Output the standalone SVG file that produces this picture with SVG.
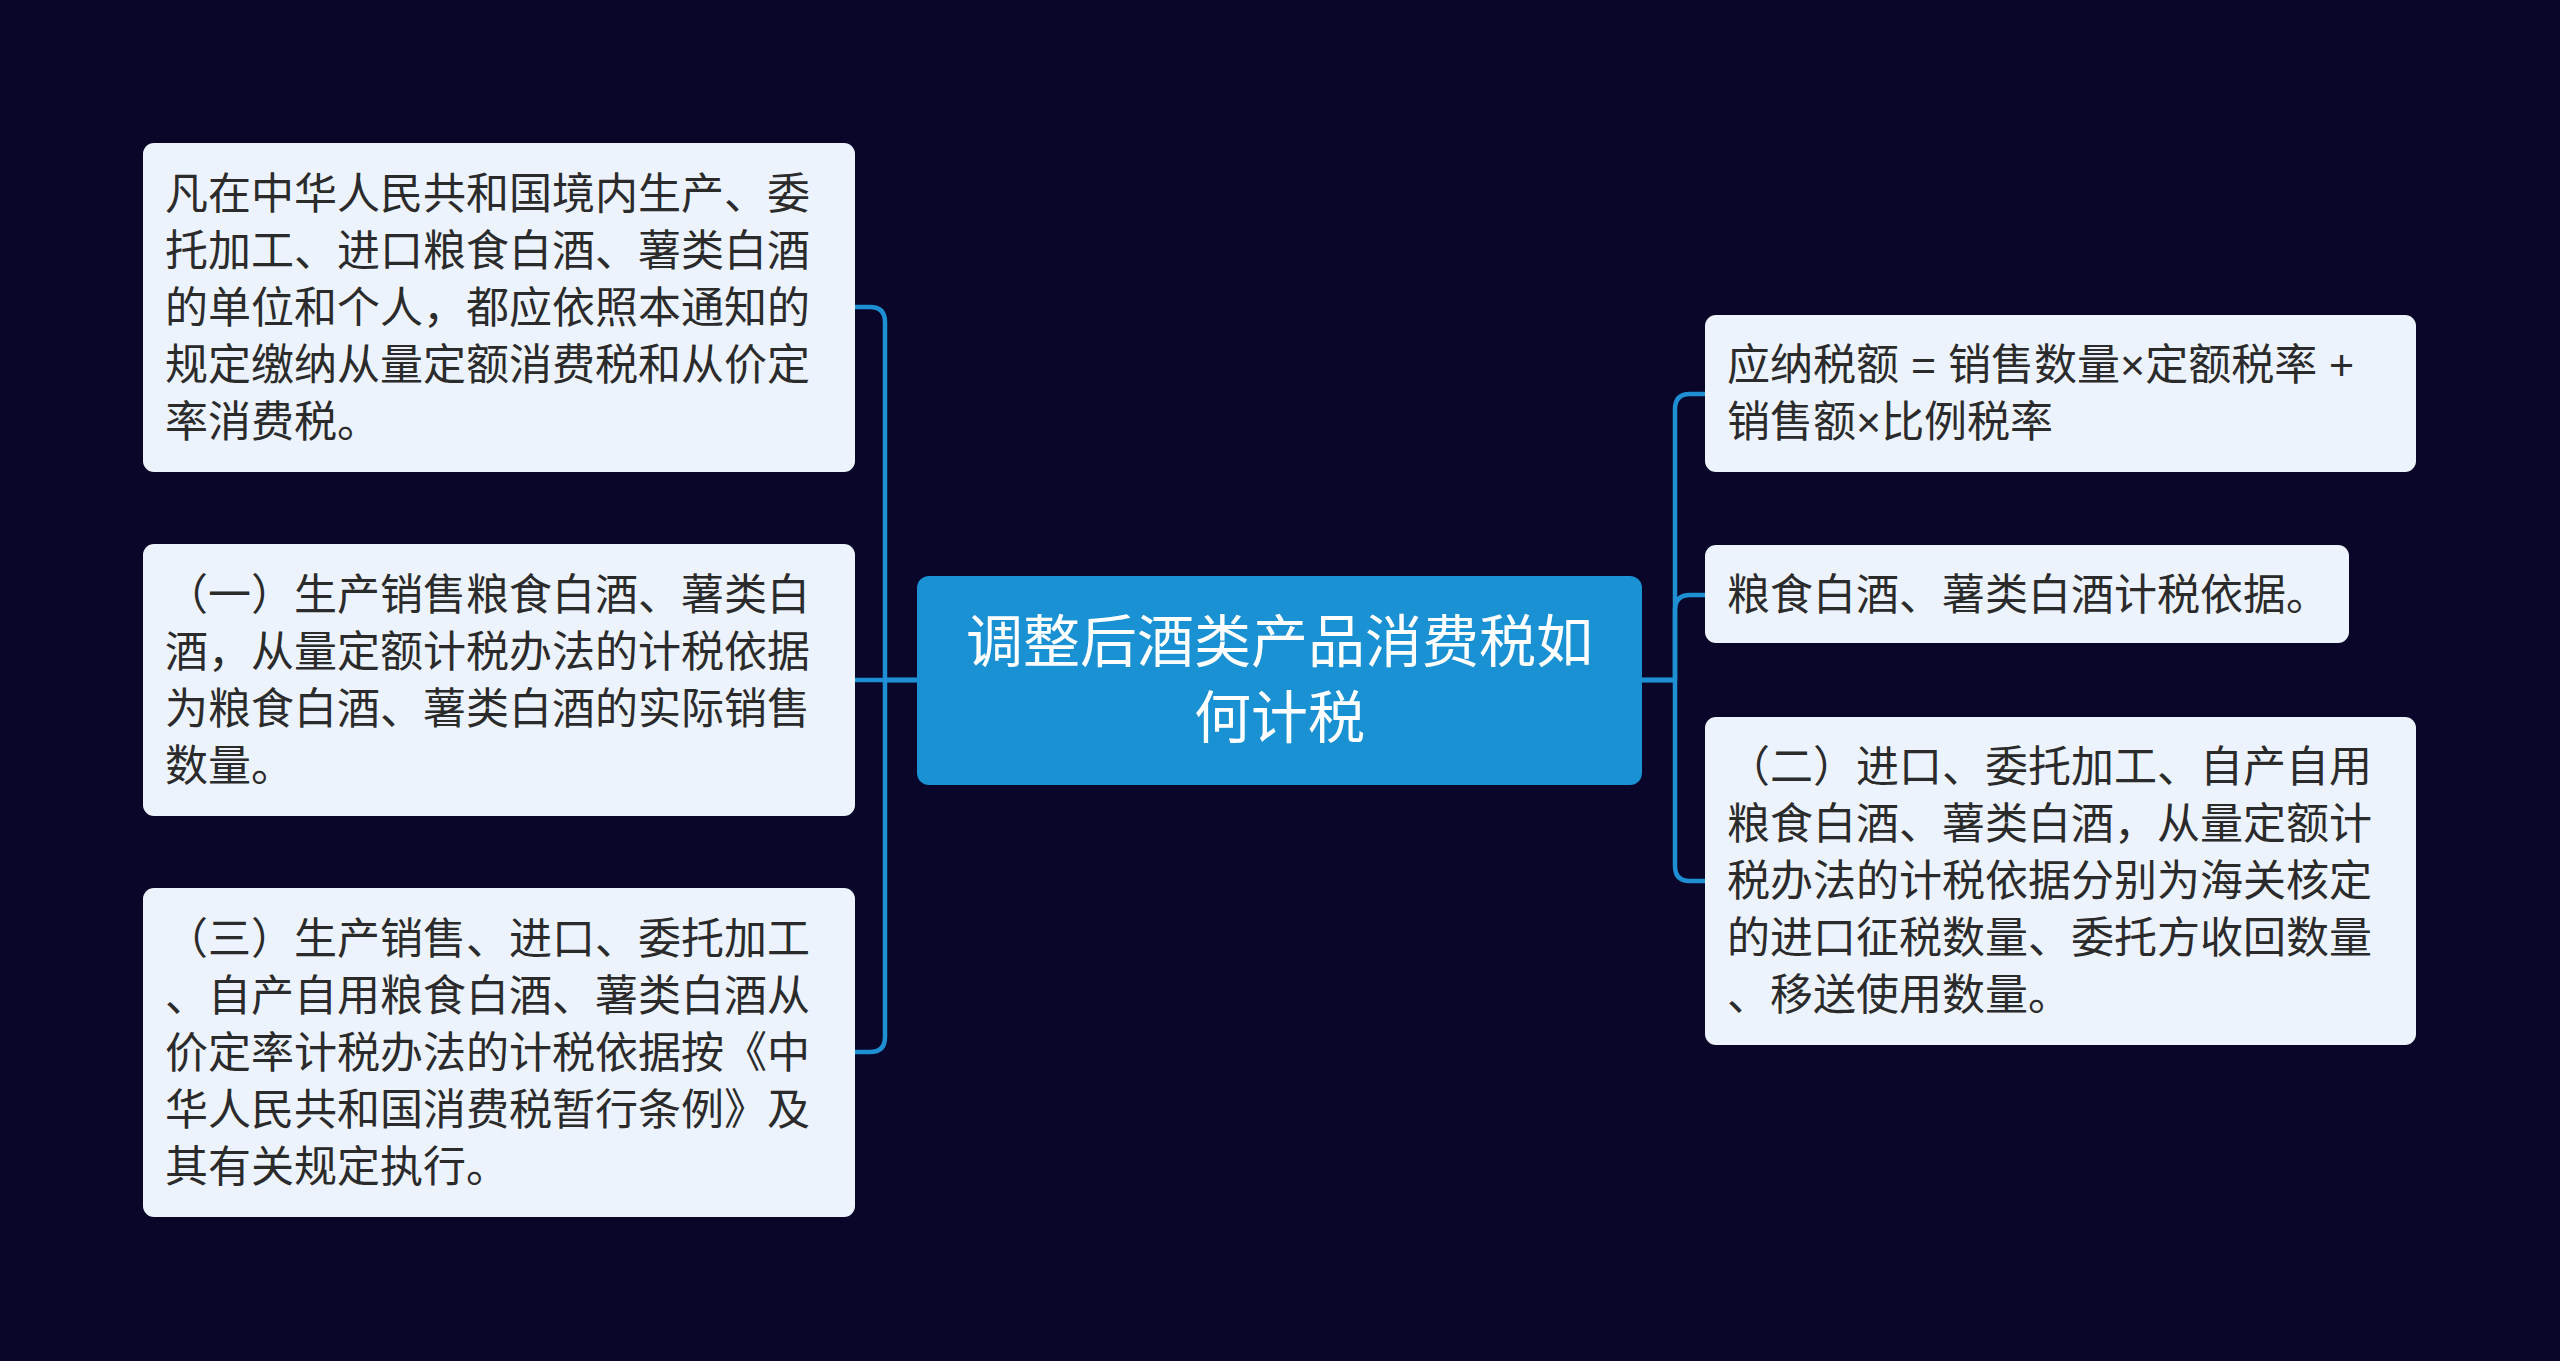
<svg xmlns="http://www.w3.org/2000/svg" width="2560" height="1361" viewBox="0 0 2560 1361">
<defs>
<style>
.bg{fill:#0a0629;}
.node{fill:#edf3fd;}
.root{fill:#1a91d2;}
.t{font-family:"Noto Sans CJK SC","Noto Sans",sans-serif;font-size:43px;fill:#2b2b2b;}
.lt{font-family:"Liberation Sans","Noto Sans CJK SC",sans-serif;}
.rt{font-family:"Noto Sans CJK SC","Noto Sans",sans-serif;font-size:57px;fill:#ffffff;text-anchor:middle;}
.c{fill:none;stroke:#1e8fd3;stroke-width:4.5;stroke-linecap:round;stroke-linejoin:round;}
</style>
</defs>
<rect class="bg" x="0" y="0" width="2560" height="1361"/>
<g id="connectors">
<path class="c" d="M917,680 H885 V322 Q885,307 870,307 H855"/>
<path class="c" d="M917,680 H855"/>
<path class="c" d="M917,680 H885 V1037 Q885,1052 870,1052 H855"/>
<path class="c" d="M1642,680 H1675 V409 Q1675,394 1690,394 H1705"/>
<path class="c" d="M1642,680 H1675 V610 Q1675,595 1690,595 H1705"/>
<path class="c" d="M1642,680 H1675 V866 Q1675,881 1690,881 H1705"/>
</g>
<g id="root">
<rect class="root" x="917" y="576" width="725" height="209" rx="12"/>
<text class="rt" x="1279.5" y="662">调整后酒类产品消费税如</text>
<text class="rt" x="1279.5" y="738">何计税</text>
</g>
<g id="node-l1">
<rect class="node" x="143" y="143" width="712" height="329" rx="11"/>
<text class="t" x="165" y="209">凡在中华人民共和国境内生产、委</text>
<text class="t" x="165" y="266">托加工、进口粮食白酒、薯类白酒</text>
<text class="t" x="165" y="323">的单位和个人，都应依照本通知的</text>
<text class="t" x="165" y="380">规定缴纳从量定额消费税和从价定</text>
<text class="t" x="165" y="437">率消费税。</text>
</g>
<g id="node-l2">
<rect class="node" x="143" y="544" width="712" height="272" rx="11"/>
<text class="t" x="165" y="610">（一）生产销售粮食白酒、薯类白</text>
<text class="t" x="165" y="667">酒，从量定额计税办法的计税依据</text>
<text class="t" x="165" y="724">为粮食白酒、薯类白酒的实际销售</text>
<text class="t" x="165" y="781">数量。</text>
</g>
<g id="node-l3">
<rect class="node" x="143" y="888" width="712" height="329" rx="11"/>
<text class="t" x="165" y="954">（三）生产销售、进口、委托加工</text>
<text class="t" x="165" y="1011">、自产自用粮食白酒、薯类白酒从</text>
<text class="t" x="165" y="1068">价定率计税办法的计税依据按《中</text>
<text class="t" x="165" y="1125">华人民共和国消费税暂行条例》及</text>
<text class="t" x="165" y="1182">其有关规定执行。</text>
</g>
<g id="node-r1">
<rect class="node" x="1705" y="315" width="711" height="157" rx="11"/>
<text class="t" x="1727" y="380" xml:space="preserve">应纳税额<tspan class="lt"> = </tspan>销售数量<tspan class="lt">×</tspan>定额税率<tspan class="lt"> +</tspan></text>
<text class="t" x="1727" y="437">销售额<tspan class="lt">×</tspan>比例税率</text>
</g>
<g id="node-r2">
<rect class="node" x="1705" y="545" width="644" height="98" rx="11"/>
<text class="t" x="1727" y="610">粮食白酒、薯类白酒计税依据。</text>
</g>
<g id="node-r3">
<rect class="node" x="1705" y="717" width="711" height="328" rx="11"/>
<text class="t" x="1727" y="782">（二）进口、委托加工、自产自用</text>
<text class="t" x="1727" y="839">粮食白酒、薯类白酒，从量定额计</text>
<text class="t" x="1727" y="896">税办法的计税依据分别为海关核定</text>
<text class="t" x="1727" y="953">的进口征税数量、委托方收回数量</text>
<text class="t" x="1727" y="1010">、移送使用数量。</text>
</g>
</svg>
